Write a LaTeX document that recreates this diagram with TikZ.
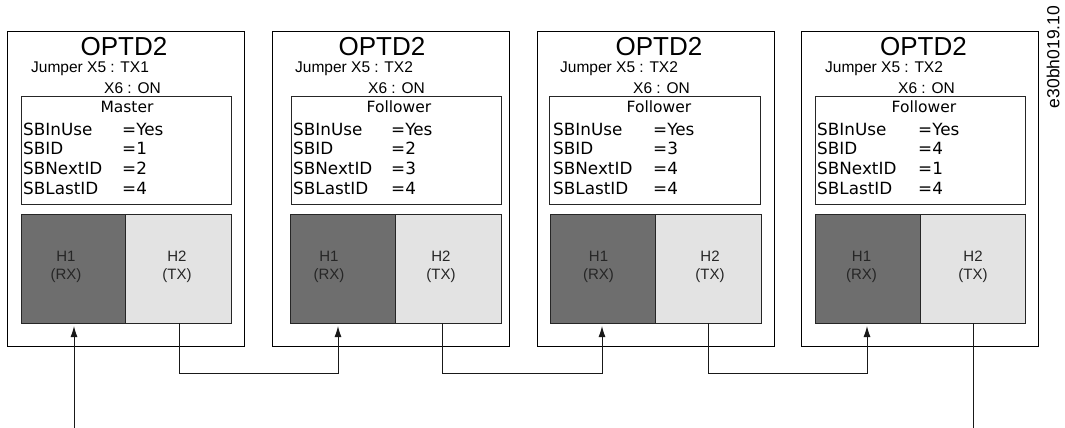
\documentclass[tikz,border=0pt]{standalone}
\usepackage{fontspec}
\setmainfont{Liberation Sans}
\newfontfamily\dvfont{DejaVu Sans}
\usetikzlibrary{arrows.meta}
\begin{document}
\begin{tikzpicture}[x=1pt,y=-1pt,
  outerbox/.style={draw=black, line width=0.9pt, minimum width=237pt, minimum height=315pt, anchor=north west, inner sep=0pt},
  infobox/.style={draw=black!85, line width=0.9pt, minimum height=108pt, anchor=north west, inner sep=0pt},
  rxbox/.style={draw=black!85, fill=black!57, line width=0.8pt, minimum height=109pt, anchor=north west, inner sep=0pt},
  txbox/.style={draw=black!85, fill=black!11, line width=0.8pt, minimum height=109pt, anchor=north west, inner sep=0pt},
  title/.style={font=\fontsize{26}{26}\selectfont, anchor=base, inner sep=0pt},
  jump/.style={font=\fontsize{15.5}{16}\selectfont, anchor=base west, inner sep=0pt},
  mode/.style={font=\dvfont\fontsize{15.5}{16}\selectfont, anchor=base, inner sep=0pt},
  sb/.style={font=\dvfont\fontsize{16.8}{17}\selectfont, anchor=base west, inner sep=0pt},
  htext/.style={font=\fontsize{15}{18}\selectfont, align=center, inner sep=0pt, text=black!85},
  wire/.style={line width=0.9pt, draw=black!90},
  arr/.style={wire, -{Latex[length=11pt,width=7pt]}}
]
\useasboundingbox (0,0) rectangle (1065,428);

% ---------- Box 1 ----------
\node[outerbox] (o1) at (7,31) {};
\node[title] (t1) at (124,56) {OPTD2};
\node[jump] (j1) at (31,73) {Jumper X5 : TX1};
\node[jump] (x1) at (104,93) {X6 : ON};
\node[infobox, minimum width=210pt] (i1) at (21,96) {};
\node[mode] (m1) at (127,112.7) {Master};
\node[sb] (a1) at (23,135) {SBInUse};
\node[sb] (b1) at (23,154.5) {SBID};
\node[sb] (c1) at (23,174) {SBNextID};
\node[sb] (d1) at (23,194) {SBLastID};
\node[sb] (va1) at (122,135) {=Yes};
\node[sb] (vb1) at (122,154.5) {=1};
\node[sb] (vc1) at (122,174) {=2};
\node[sb] (vd1) at (122,194) {=4};
\node[rxbox, minimum width=104pt] (ha) at (21,214) {};
\node[txbox, minimum width=106pt] (hb) at (125,214) {};
\node[htext] (ra) at (66,267) {H1\\(RX)};
\node[htext] (sa) at (177,267) {H2\\(TX)};

% ---------- Box 2 ----------
\node[outerbox] (o2) at (272,31) {};
\node[title] (t2) at (382,56) {OPTD2};
\node[jump] (j2) at (295,73) {Jumper X5 : TX2};
\node[jump] (x2) at (368,93) {X6 : ON};
\node[infobox, minimum width=210pt] (i2) at (291,96) {};
\node[mode] (m2) at (399,112.7) {Follower};
\node[sb] (a2) at (293,135) {SBInUse};
\node[sb] (b2) at (293,154.5) {SBID};
\node[sb] (c2) at (293,174) {SBNextID};
\node[sb] (d2) at (293,194) {SBLastID};
\node[sb] (va2) at (391,135) {=Yes};
\node[sb] (vb2) at (391,154.5) {=2};
\node[sb] (vc2) at (391,174) {=3};
\node[sb] (vd2) at (391,194) {=4};
\node[rxbox, minimum width=105pt] (hc) at (290,214) {};
\node[txbox, minimum width=106pt] (hd) at (395,214) {};
\node[htext] (rb) at (329,267) {H1\\(RX)};
\node[htext] (sb2) at (441,267) {H2\\(TX)};

% ---------- Box 3 ----------
\node[outerbox] (o3) at (537,31) {};
\node[title] (t3) at (659,56) {OPTD2};
\node[jump] (j3) at (560,73) {Jumper X5 : TX2};
\node[jump] (x3) at (633,93) {X6 : ON};
\node[infobox, minimum width=211pt] (i3) at (549,96) {};
\node[mode] (m3) at (659,112.7) {Follower};
\node[sb] (a3) at (553,135) {SBInUse};
\node[sb] (b3) at (553,154.5) {SBID};
\node[sb] (c3) at (553,174) {SBNextID};
\node[sb] (d3) at (553,194) {SBLastID};
\node[sb] (va3) at (653,135) {=Yes};
\node[sb] (vb3) at (653,154.5) {=3};
\node[sb] (vc3) at (653,174) {=4};
\node[sb] (vd3) at (653,194) {=4};
\node[rxbox, minimum width=105pt] (he) at (550,214) {};
\node[txbox, minimum width=106pt] (hf) at (655,214) {};
\node[htext] (rc) at (598.5,267) {H1\\(RX)};
\node[htext] (sc) at (710,267) {H2\\(TX)};

% ---------- Box 4 ----------
\node[outerbox] (o4) at (801,31) {};
\node[title] (t4) at (923.5,56) {OPTD2};
\node[jump] (j4) at (825,73) {Jumper X5 : TX2};
\node[jump] (x4) at (898,93) {X6 : ON};
\node[infobox, minimum width=210pt] (i4) at (815,96) {};
\node[mode] (m4) at (924,112.7) {Follower};
\node[sb] (a4) at (817,135) {SBInUse};
\node[sb] (b4) at (817,154.5) {SBID};
\node[sb] (c4) at (817,174) {SBNextID};
\node[sb] (d4) at (817,194) {SBLastID};
\node[sb] (va4) at (918,135) {=Yes};
\node[sb] (vb4) at (918,154.5) {=4};
\node[sb] (vc4) at (918,174) {=1};
\node[sb] (vd4) at (918,194) {=4};
\node[rxbox, minimum width=105pt] (hg) at (815,214) {};
\node[txbox, minimum width=105pt] (hh) at (920,214) {};
\node[htext] (rd) at (861.5,267) {H1\\(RX)};
\node[htext] (sd) at (973,267) {H2\\(TX)};

% ---------- connectors ----------
\coordinate (bus) at (0,373);
\coordinate (inA) at (74,428);
\coordinate (tipA) at (74,326);
\coordinate (tipB) at (338,326);
\coordinate (tipC) at (602,326);
\coordinate (tipD) at (867,326);
\coordinate (srcA) at (179,323);
\coordinate (srcB) at (442,323);
\coordinate (srcC) at (708,323);
\coordinate (srcD) at (973,323);
\coordinate (outD) at (973,428);

\draw[arr] (inA) -- (tipA);
\draw[arr] (srcA) -- (srcA |- bus) -| (tipB);
\draw[arr] (srcB) -- (srcB |- bus) -| (tipC);
\draw[arr] (srcC) -- (srcC |- bus) -| (tipD);
\draw[wire] (srcD) -- (outD);

% ---------- side label ----------
\node[rotate=90, font=\fontsize{17.5}{18}\selectfont, inner sep=0pt] (lbl) at (1053,57) {e30bh019.10};
\end{tikzpicture}
\end{document}
